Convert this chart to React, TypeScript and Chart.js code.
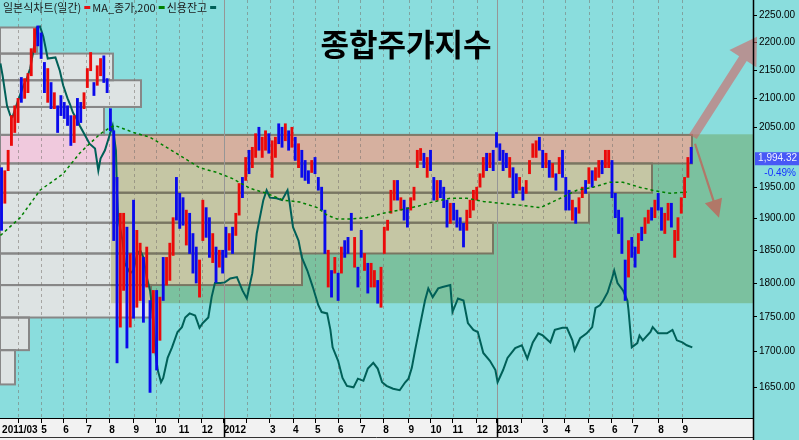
import React, { useEffect, useRef } from 'react';
import { Chart, registerables } from 'chart.js';

Chart.register(...registerables);

// ---------- axes ----------
// x unit: trading-day index, 0 = first trading day of April 2011
const X_MIN = -16.4;
const X_MAX = 668.2;
const Y_MIN = 1608.3;
const Y_MAX = 2279.7;

const monthTickDays = [0, 21, 41, 62, 83, 105, 125, 146, 167, 187, 208, 229, 250, 270, 291, 311, 332, 355, 375, 395, 417, 435, 458, 477, 497, 519, 540, 559, 582, 604];
const monthTickLabels = ['', '5', '6', '7', '8', '9', '10', '11', '12', '2012', '', '3', '4', '5', '6', '7', '8', '9', '10', '11', '12', '2013', '', '3', '4', '5', '6', '7', '8', '9'];
const yearStartDays = [187, 435];
const startLabel = '2011/03';
const startLabelDay = -14.5;
const priceTicks = [2250, 2200, 2150, 2100, 2050, 1950, 1900, 1850, 1800, 1750, 1700, 1650];

// ---------- price bars (sampled every 3 trading days) ----------
const candleStartDay = -15;
const candleStepDays = 3;
const candleHigh = [
  1982, 1977, 2011, 2070, 2087, 2100, 2137, 2135, 2144, 2189,
  2226, 2231, 2218, 2164, 2153, 2128, 2110, 2087, 2105, 2093,
  2087, 2070, 2070, 2100, 2093, 2110, 2153, 2182, 2128, 2158,
  2171, 2176, 2135, 2082, 2044, 1966, 1908, 1908, 1886, 1845,
  1929, 1881, 1861, 1839, 1855, 1774, 1789, 1789, 1779, 1839,
  1839, 1861, 1901, 1966, 1940, 1933, 1913, 1908, 1876, 1855,
  1835, 1929, 1917, 1901, 1876, 1855, 1850, 1850, 1886, 1876,
  1886, 1908, 1956, 1966, 1999, 2011, 2016, 2039, 2050, 2033,
  2044, 2039, 2027, 2033, 2056, 2050, 2056, 2044, 2050, 2033,
  2022, 2011, 1994, 1977, 1994, 1999, 1966, 1950, 1913, 1850,
  1819, 1839, 1815, 1855, 1865, 1870, 1908, 1870, 1824, 1881,
  1845, 1830, 1830, 1819, 1804, 1824, 1886, 1897, 1945, 1961,
  1961, 1933, 1929, 1917, 1933, 1950, 2011, 2014, 2006, 1999,
  2011, 1966, 1961, 1961, 1950, 1929, 1924, 1924, 1913, 1901,
  1892, 1913, 1929, 1945, 1950, 1972, 1999, 2006, 2006, 2011,
  2041, 2022, 2011, 2006, 1999, 1982, 1972, 1966, 1950, 1961,
  1994, 2022, 2027, 2033, 2011, 2006, 1994, 1989, 1972, 1999,
  2011, 1966, 1945, 1929, 1917, 1933, 1950, 1961, 1982, 1977,
  1982, 1994, 1994, 2011, 2011, 1994, 1940, 1913, 1901, 1835,
  1865, 1870, 1855, 1876, 1886, 1901, 1913, 1917, 1929, 1940,
  1917, 1908, 1924, 1924, 1881, 1901, 1933, 1966, 1999, 2016,
];
const candleLow = [
  1881, 1924, 1977, 2019, 2041, 2058, 2093, 2100, 2110, 2140,
  2182, 2194, 2171, 2110, 2093, 2082, 2082, 2041, 2070, 2065,
  2053, 2019, 2024, 2053, 2058, 2082, 2119, 2149, 2105, 2123,
  2140, 2128, 2110, 2044, 1865, 1684, 1735, 1789, 1705, 1735,
  1748, 1764, 1774, 1742, 1794, 1643, 1698, 1674, 1716, 1774,
  1797, 1804, 1842, 1897, 1884, 1889, 1858, 1845, 1815, 1800,
  1779, 1865, 1870, 1839, 1831, 1801, 1824, 1815, 1839, 1850,
  1845, 1873, 1905, 1933, 1961, 1972, 1982, 1999, 2011, 1999,
  2011, 2006, 1966, 1999, 2022, 2016, 2027, 2011, 2016, 1994,
  1982, 1966, 1961, 1956, 1974, 1972, 1945, 1913, 1845, 1794,
  1779, 1815, 1774, 1815, 1839, 1845, 1881, 1824, 1794, 1839,
  1819, 1785, 1794, 1794, 1770, 1764, 1845, 1881, 1908, 1929,
  1929, 1913, 1897, 1886, 1913, 1929, 1982, 1994, 1982, 1966,
  1977, 1929, 1929, 1933, 1917, 1886, 1892, 1897, 1886, 1881,
  1855, 1881, 1901, 1913, 1929, 1950, 1966, 1977, 1982, 1977,
  2016, 1994, 1977, 1982, 1966, 1933, 1940, 1945, 1929, 1940,
  1972, 1999, 1999, 2011, 1982, 1982, 1966, 1966, 1945, 1972,
  1966, 1913, 1913, 1897, 1892, 1908, 1933, 1940, 1956, 1950,
  1961, 1966, 1972, 1982, 1982, 1933, 1901, 1876, 1845, 1774,
  1809, 1839, 1824, 1845, 1865, 1876, 1892, 1897, 1901, 1913,
  1881, 1876, 1897, 1886, 1839, 1865, 1908, 1933, 1966, 1989,
];
// 1 = up (red), 0 = down (blue)
const candleUp = [
  0, 1, 1, 1, 1, 1, 0, 1, 1, 1,
  1, 0, 0, 0, 1, 0, 1, 0, 0, 0,
  0, 0, 1, 0, 0, 1, 1, 1, 0, 1,
  1, 0, 0, 0, 0, 0, 1, 1, 0, 1,
  0, 1, 1, 0, 1, 0, 1, 0, 1, 0,
  1, 1, 1, 0, 0, 0, 1, 0, 0, 0,
  1, 1, 0, 0, 1, 0, 1, 0, 0, 1,
  0, 1, 1, 0, 1, 0, 1, 1, 0, 1,
  1, 0, 1, 1, 0, 0, 1, 0, 1, 0,
  1, 0, 0, 0, 1, 0, 0, 0, 0, 1,
  0, 1, 0, 1, 0, 0, 0, 1, 0, 0,
  1, 0, 1, 1, 0, 1, 1, 1, 1, 1,
  0, 1, 0, 0, 1, 1, 1, 1, 0, 1,
  0, 0, 1, 0, 0, 0, 1, 0, 0, 0,
  0, 1, 1, 1, 1, 1, 1, 0, 1, 0,
  0, 0, 0, 0, 1, 0, 0, 1, 0, 1,
  1, 1, 1, 0, 0, 1, 0, 1, 0, 1,
  0, 0, 0, 1, 0, 1, 1, 0, 1, 0,
  1, 1, 0, 1, 1, 0, 0, 0, 0, 0,
  1, 0, 0, 1, 0, 1, 1, 0, 1, 0,
  0, 1, 1, 0, 1, 1, 1, 1, 1, 0,
];

// ---------- MA 200 ----------
const maDays = [-16, 2, 20, 41, 56, 65, 75, 84, 88, 105, 120, 135, 150, 165, 181, 195, 211, 226, 241, 256, 272, 281, 290, 302, 317, 332, 347, 363, 377, 393, 408, 423, 438, 456, 475, 493, 508, 523, 538, 550, 565, 577, 593, 608];
const maValues = [1873, 1901, 1945, 1972, 2006, 2022, 2039, 2050, 2053, 2041, 2033, 2016, 1999, 1982, 1974, 1964, 1948, 1940, 1929, 1926, 1917, 1905, 1899, 1899, 1901, 1908, 1913, 1919, 1926, 1932, 1932, 1927, 1924, 1921, 1917, 1932, 1945, 1950, 1958, 1958, 1950, 1945, 1940, 1942];

// ---------- credit balance (drawn against the price axis) ----------
const creditDays = [-16, -14, -10, -7, -5, 0, 5, 8, 11, 14, 17, 20, 23, 27, 34, 38, 41, 45, 47, 50, 54, 56, 61, 65, 70, 73, 75, 79, 84, 86, 89, 90, 91, 95, 97, 102, 105, 108, 111, 114, 117, 120, 123, 125, 127, 130, 132, 136, 140, 145, 149, 152, 156, 161, 165, 168, 173, 176, 179, 184, 188, 193, 199, 204, 208, 213, 217, 223, 226, 229, 235, 240, 245, 247, 250, 255, 258, 263, 268, 273, 276, 281, 284, 286, 291, 295, 299, 305, 309, 314, 318, 323, 327, 331, 335, 341, 347, 352, 355, 358, 361, 365, 370, 373, 377, 382, 386, 393, 395, 400, 405, 409, 414, 418, 423, 429, 434, 436, 441, 445, 452, 458, 463, 468, 473, 477, 484, 488, 495, 499, 504, 506, 511, 517, 522, 525, 529, 532, 536, 540, 542, 545, 550, 554, 555, 558, 563, 565, 568, 575, 577, 582, 590, 595, 599, 604, 608, 613];
const creditValues = [2162, 2140, 2087, 2070, 2068, 2096, 2123, 2135, 2153, 2185, 2228, 2230, 2211, 2171, 2173, 2149, 2123, 2100, 2091, 2075, 2062, 2053, 2036, 2022, 2014, 1977, 1997, 2011, 2041, 2053, 2011, 1940, 1901, 1865, 1830, 1815, 1819, 1842, 1850, 1839, 1809, 1789, 1749, 1698, 1674, 1657, 1663, 1691, 1706, 1728, 1735, 1749, 1755, 1752, 1734, 1741, 1749, 1779, 1800, 1800, 1801, 1807, 1809, 1789, 1777, 1815, 1876, 1929, 1945, 1933, 1932, 1929, 1945, 1924, 1886, 1865, 1839, 1819, 1794, 1767, 1757, 1755, 1731, 1706, 1687, 1663, 1652, 1650, 1662, 1659, 1676, 1684, 1676, 1657, 1652, 1648, 1646, 1657, 1662, 1677, 1702, 1734, 1774, 1792, 1779, 1792, 1794, 1797, 1757, 1777, 1774, 1741, 1731, 1728, 1698, 1687, 1674, 1657, 1674, 1691, 1705, 1709, 1690, 1713, 1726, 1723, 1713, 1731, 1734, 1734, 1716, 1702, 1719, 1726, 1735, 1763, 1767, 1774, 1786, 1807, 1819, 1800, 1789, 1774, 1760, 1706, 1712, 1723, 1716, 1728, 1735, 1726, 1726, 1731, 1716, 1713, 1709, 1706];

// ---------- volume profile ----------
const profileEdges = [1654, 1702, 1749, 1797, 1845, 1893, 1941, 1989, 2037, 2085, 2132, 2180, 2228];
const profileVolume = [15, 29, 151, 302, 493, 589, 652, 692, 104, 141, 113, 37];
const VOLUME_AXIS_MAX = 753;

// ---------- annotations ----------
const greenZoneDays = [84.5, X_MAX];
const greenZonePrices = [1770, 2038];
const lastPrice = 1994.32;
const lastPriceLabel = '1,994.32';
const changeLabel = '-0.49%';
const upArrowFrom = [613.6, 2034];
const upArrowTo = [671.8, 2211];
const downArrowFrom = [615.5, 2022];
const downArrowTo = [637.3, 1901];
const titleText = '종합주가지수';
const legendTexts = ['일본식차트(일간)', 'MA_종가,200', '신용잔고'];
const legendColors = ['rgb(230,20,20)', 'rgb(0,128,0)', 'rgb(0,96,88)'];

const BG = 'rgb(138,221,221)';
const NUM_FONT = '"Liberation Sans", Arial, sans-serif';
const KR_FONT = '"Noto Sans CJK KR", sans-serif';

function drawArrow(ctx: CanvasRenderingContext2D, sx: number, sy: number, tx: number, ty: number, shaftHalf: number, headLen: number, headHalf: number) {
  const dx = tx - sx, dy = ty - sy;
  const len = Math.hypot(dx, dy);
  const ux = dx / len, uy = dy / len;
  const nx = -uy, ny = ux;
  const bx = tx - ux * headLen, by = ty - uy * headLen;
  ctx.beginPath();
  ctx.moveTo(sx + nx * shaftHalf, sy + ny * shaftHalf);
  ctx.lineTo(bx + nx * shaftHalf, by + ny * shaftHalf);
  ctx.lineTo(bx + nx * headHalf, by + ny * headHalf);
  ctx.lineTo(tx, ty);
  ctx.lineTo(bx - nx * headHalf, by - ny * headHalf);
  ctx.lineTo(bx - nx * shaftHalf, by - ny * shaftHalf);
  ctx.lineTo(sx - nx * shaftHalf, sy - ny * shaftHalf);
  ctx.closePath();
  ctx.fill();
}

const decorPlugin = {
  id: 'decor',
  beforeDraw(chart: any) {
    const { ctx, width, height, chartArea: a } = chart;
    ctx.save();
    ctx.fillStyle = BG;
    ctx.fillRect(0, 0, width, height);
    ctx.fillStyle = '#f2f2f2';
    ctx.fillRect(0, a.bottom, a.right, height - a.bottom);
    ctx.strokeStyle = '#333';
    ctx.lineWidth = 1;
    ctx.beginPath();
    ctx.moveTo(0, a.bottom + 19.5);
    ctx.lineTo(a.right, a.bottom + 19.5);
    ctx.stroke();
    ctx.restore();
  },
  beforeDatasetsDraw(chart: any) {
    const { ctx, chartArea: a, scales } = chart;
    const x = scales.x, y = scales.y, xv = scales.xv;
    ctx.save();
    ctx.beginPath();
    ctx.rect(a.left, a.top, a.right - a.left, a.bottom - a.top);
    ctx.clip();
    let cur = -1;
    for (let i = 0; i < profileVolume.length; i++) {
      if (lastPrice >= profileEdges[i] && lastPrice < profileEdges[i + 1]) cur = i;
    }
    const x0 = xv.getPixelForValue(0);
    profileVolume.forEach((v, i) => {
      const top = y.getPixelForValue(profileEdges[i + 1]);
      const bot = y.getPixelForValue(profileEdges[i]);
      const right = xv.getPixelForValue(v);
      ctx.fillStyle = i === cur ? 'rgb(240,201,221)' : 'rgb(221,227,227)';
      ctx.fillRect(x0, top, right - x0, bot - top);
    });
    ctx.strokeStyle = 'rgb(135,135,135)';
    ctx.lineWidth = 2;
    profileVolume.forEach((v, i) => {
      const top = y.getPixelForValue(profileEdges[i + 1]);
      const bot = y.getPixelForValue(profileEdges[i]);
      const right = xv.getPixelForValue(v);
      ctx.strokeRect(x0, top, right - x0, bot - top);
    });
    // translucent zone
    ctx.globalCompositeOperation = 'multiply';
    ctx.fillStyle = 'rgb(228,223,184)';
    const gx0 = x.getPixelForValue(greenZoneDays[0]);
    const gx1 = x.getPixelForValue(greenZoneDays[1]);
    const gy0 = y.getPixelForValue(greenZonePrices[1]);
    const gy1 = y.getPixelForValue(greenZonePrices[0]);
    ctx.fillRect(gx0, gy0, gx1 - gx0, gy1 - gy0);
    ctx.globalCompositeOperation = 'source-over';
    // month grid
    ctx.lineWidth = 1;
    ctx.strokeStyle = 'rgba(120,115,110,0.55)';
    ctx.setLineDash([3, 3]);
    monthTickDays.forEach((d) => {
      if (yearStartDays.includes(d)) return;
      const px = Math.round(x.getPixelForValue(d)) + 0.5;
      ctx.beginPath();
      ctx.moveTo(px, a.top);
      ctx.lineTo(px, a.bottom);
      ctx.stroke();
    });
    ctx.setLineDash([]);
    ctx.strokeStyle = 'rgb(150,150,150)';
    yearStartDays.forEach((d) => {
      const px = Math.round(x.getPixelForValue(d)) + 0.5;
      ctx.beginPath();
      ctx.moveTo(px, a.top);
      ctx.lineTo(px, a.bottom);
      ctx.stroke();
    });
    ctx.restore();
    ctx.save();
    ctx.strokeStyle = '#000';
    ctx.lineWidth = 1.5;
    yearStartDays.forEach((d) => {
      const px = Math.round(x.getPixelForValue(d)) + 0.5;
      ctx.beginPath();
      ctx.moveTo(px, a.bottom);
      ctx.lineTo(px, a.bottom + 19);
      ctx.stroke();
    });
    ctx.restore();
  },
  afterDatasetsDraw(chart: any) {
    const { ctx, chartArea: a, scales, height, width } = chart;
    const x = scales.x, y = scales.y;
    ctx.save();
    // arrows
    ctx.fillStyle = 'rgba(210,100,100,0.6)';
    drawArrow(ctx, x.getPixelForValue(upArrowFrom[0]), y.getPixelForValue(upArrowFrom[1]), x.getPixelForValue(upArrowTo[0]), y.getPixelForValue(upArrowTo[1]), 4.5, 26, 16);
    ctx.fillStyle = 'rgba(195,95,85,0.75)';
    drawArrow(ctx, x.getPixelForValue(downArrowFrom[0]), y.getPixelForValue(downArrowFrom[1]), x.getPixelForValue(downArrowTo[0]), y.getPixelForValue(downArrowTo[1]), 1.1, 18, 9);
    // right axis line
    ctx.strokeStyle = '#000';
    ctx.lineWidth = 1.5;
    ctx.beginPath();
    ctx.moveTo(a.right + 0.5, 0);
    ctx.lineTo(a.right + 0.5, height);
    ctx.stroke();
    // title
    ctx.fillStyle = '#000';
    ctx.font = `bold 31px ${KR_FONT}`;
    ctx.textAlign = 'center';
    ctx.textBaseline = 'middle';
    ctx.fillText(titleText, 406, 44);
    // legend
    ctx.font = `11px ${KR_FONT}`;
    ctx.textAlign = 'left';
    ctx.textBaseline = 'middle';
    let lx = 3;
    legendTexts.forEach((t, i) => {
      ctx.fillStyle = '#1a1a1a';
      ctx.fillText(t, lx, 8);
      lx += ctx.measureText(t).width + 3;
      ctx.fillStyle = legendColors[i];
      ctx.fillRect(lx, 6, 6, 3);
      lx += 8;
    });
    // last price badge
    const py = y.getPixelForValue(lastPrice);
    ctx.fillStyle = 'rgb(72,88,246)';
    ctx.fillRect(a.right + 2, py - 8, width - a.right - 2, 13);
    ctx.font = `10px ${NUM_FONT}`;
    ctx.textAlign = 'right';
    ctx.fillStyle = '#eef0ff';
    ctx.fillText(lastPriceLabel, width - 2, py - 1.5);
    ctx.fillStyle = 'rgb(20,50,255)';
    ctx.fillText(changeLabel, width - 3, py + 13);
    ctx.restore();
  },
};

export default function App() {
  const ref = useRef<HTMLCanvasElement | null>(null);
  useEffect(() => {
    if (!ref.current) return;
    const candleData = candleHigh.map((h, i) => ({ x: candleStartDay + candleStepDays * i, y: [candleLow[i], h] }));
    const candleColors = candleUp.map((u) => (u ? 'rgb(235,10,10)' : 'rgb(10,10,235)'));
    const chart = new Chart(ref.current, {
      type: 'bar',
      data: {
        datasets: [
          {
            type: 'line',
            label: '신용잔고',
            data: creditDays.map((d, i) => ({ x: d, y: creditValues[i] })),
            borderColor: 'rgb(0,96,88)',
            borderWidth: 2,
            pointRadius: 0,
            order: 3,
          } as any,
          {
            type: 'bar',
            label: '일본식차트(일간)',
            data: candleData,
            backgroundColor: candleColors,
            borderWidth: 0,
            barThickness: 2.2,
            order: 2,
          } as any,
          {
            type: 'line',
            label: 'MA_종가,200',
            data: maDays.map((d, i) => ({ x: d, y: maValues[i] })),
            borderColor: 'rgb(0,128,0)',
            borderWidth: 1.5,
            borderDash: [3, 3],
            pointRadius: 0,
            order: 1,
          } as any,
        ],
      },
      options: {
        responsive: false,
        animation: false,
        devicePixelRatio: 1,
        events: [],
        layout: { padding: 0 },
        plugins: { legend: { display: false }, tooltip: { enabled: false }, title: { display: false } },
        scales: {
          x: {
            type: 'linear',
            min: X_MIN,
            max: X_MAX,
            offset: false,
            afterBuildTicks: (s: any) => {
              s.ticks = [{ value: startLabelDay }, ...monthTickDays.map((v) => ({ value: v }))];
            },
            afterFit: (s: any) => {
              s.height = 22;
              s.paddingLeft = 0;
              s.paddingRight = 0;
            },
            ticks: {
              autoSkip: false,
              maxRotation: 0,
              minRotation: 0,
              align: 'start',
              padding: 1,
              color: '#000',
              font: { family: NUM_FONT, size: 10, weight: 'bold' },
              callback: (_v: any, i: number) => (i === 0 ? startLabel : monthTickLabels[i - 1]),
            },
            grid: {
              offset: false,
              drawOnChartArea: false,
              drawTicks: true,
              tickLength: 5,
              tickWidth: 1,
              tickColor: (c: any) => (c.index === 0 ? 'rgba(0,0,0,0)' : '#000'),
            },
            border: { display: true, color: '#000', width: 1 },
          },
          y: {
            type: 'logarithmic',
            position: 'right',
            min: Y_MIN,
            max: Y_MAX,
            afterBuildTicks: (s: any) => {
              s.ticks = priceTicks.map((v) => ({ value: v }));
            },
            afterFit: (s: any) => {
              s.width = 46;
              s.paddingTop = 0;
              s.paddingBottom = 0;
            },
            ticks: {
              autoSkip: false,
              padding: 2,
              color: '#000',
              font: { family: NUM_FONT, size: 10 },
              callback: (v: any) => Number(v).toFixed(2),
            },
            grid: { drawOnChartArea: false, drawTicks: true, tickLength: 4, tickColor: '#000' },
            border: { display: false },
          },
          xv: {
            type: 'linear',
            axis: 'x',
            display: false,
            offset: false,
            grid: { offset: false },
            min: 0,
            max: VOLUME_AXIS_MAX,
          },
        },
      } as any,
      plugins: [decorPlugin],
    });
    return () => chart.destroy();
  }, []);
  return (
    <div style={{ position: 'fixed', left: 0, top: 0, width: 799, height: 440 }}>
      <canvas ref={ref} width={799} height={440} />
    </div>
  );
}
